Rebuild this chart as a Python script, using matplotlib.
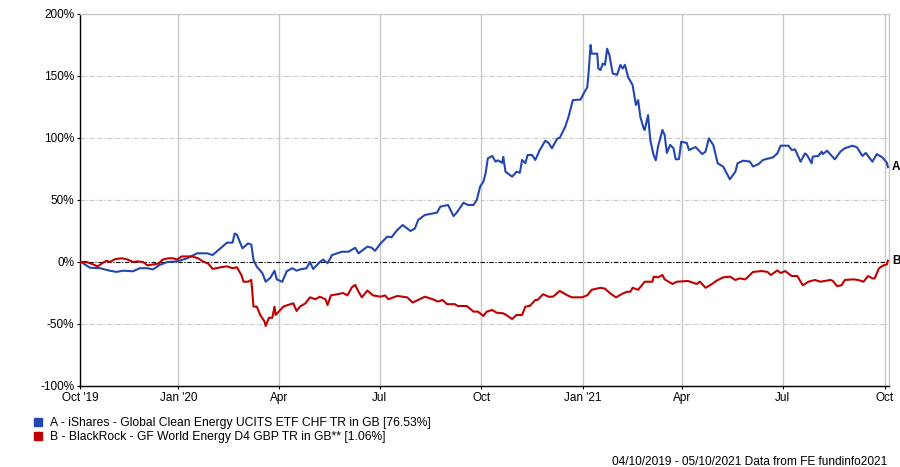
import matplotlib
matplotlib.use("Agg")
import matplotlib.pyplot as plt
import matplotlib.patches as mpatches
import pandas as pd
import numpy as np

plt.rcParams['font.family'] = ['Liberation Sans', 'DejaVu Sans']

start_date = "2019-10-04"
end_date = "2021-10-05"

# Series A (days since start, % growth)
days_a = [0, 1, 9, 18, 27, 33, 39, 48, 54, 61, 66, 72, 79, 88, 97, 106, 115, 120, 127, 133, 138, 140, 142,
          147, 152, 155, 157, 160, 165, 168, 172, 176, 178, 183, 187, 192, 196, 199, 205, 208, 211, 217, 220,
          224, 228, 237, 243, 249, 252, 260, 264, 267, 272, 278, 282, 287, 292, 299, 303, 306, 312, 323, 326,
          333, 338, 341, 347, 351, 356, 359, 362, 365, 367, 369, 373, 376, 378, 382, 383, 385, 391, 395, 398,
          400, 403, 405, 409, 412, 416, 421, 424, 427, 432, 434, 439, 442, 446, 453, 455, 459, 460, 461, 462,
          463, 466, 468, 469, 471, 473, 475, 477, 479, 482, 486, 489, 491, 493, 496, 500, 503, 505, 507, 510,
          511, 514, 516, 519, 521, 523, 527, 529, 531, 534, 537, 539, 542, 544, 549, 551, 557, 563, 566, 569,
          573, 577, 582, 588, 593, 595, 600, 606, 609, 614, 618, 627, 631, 634, 641, 644, 647, 652, 656, 658,
          662, 663, 668, 671, 672, 676, 683, 688, 692, 699, 703, 708, 711, 717, 721, 726, 730, 731]
vals_a = [0, 0, -4.6, -5, -7, -8, -7, -7.5, -5, -5, -6, -2.4, 0, 0.5, 3, 7, 7, 5.6, 11, 15.6, 15.6, 23, 22,
          11, 15, 14, 1.6, -3.8, -9, -15.9, -13, -7, -14, -16, -7.5, -5, -7, -6, -5, 0, -5.6, 0, 2,
          -1, 5.6, 8.3, 8.3, 11.5, 7, 12.4, 11.5, 9, 15, 20.4, 20, 25.8, 29.8, 25, 27, 33.9, 37.9, 39.8, 44.6,
          46, 37, 40, 47.8, 46, 46, 50, 60.7, 64.8, 71.5, 83.6, 85.5, 80.9, 82, 80, 84.7, 72.8, 68.8, 72.8, 72,
          82.3, 79.7, 86.3, 86.3, 82.3, 90.3, 97.8, 96, 91.7, 99.7, 100, 109, 117, 130.6, 131, 134.7, 141, 150.8, 163, 175,
          168, 168, 168, 156, 154.8, 160, 159, 172, 167, 152, 151, 159, 156, 159, 149, 142.7, 126.6, 130.6, 117, 107.8,
          106.5, 118.5, 98.4, 86.3, 82, 93, 106.5, 102.4, 87.9, 94.4, 91.7, 82.8, 83, 97, 96, 90.3, 92.7, 87, 89, 99.7,
          94.4, 79.6, 76.9, 66.7, 72.8, 79.6, 81.7, 81, 77, 79, 82.3, 84.4, 87.6, 93.8, 93.8, 90.3, 90.8, 80.9, 87.6, 86,
          79.6, 85, 85.5, 89, 87, 89.7, 82.8, 89, 91.7, 93.8, 92.5, 85.5, 88, 80.9, 87, 84.4, 80.1, 76.53]

# Series B (days since start, % growth)
days_b = [0, 1, 6, 12, 16, 21, 24, 27, 32, 38, 43, 48, 52, 57, 61, 66, 71, 75, 80, 84, 88, 92, 101, 107, 111,
          116, 120, 127, 133, 138, 142, 146, 148, 152, 155, 157, 160, 163, 167, 168, 171, 174, 176, 177, 184,
          188, 193, 196, 199, 204, 208, 213, 217, 222, 224, 227, 233, 238, 242, 246, 249, 252, 255, 260, 265,
          272, 276, 279, 287, 296, 301, 306, 312, 319, 324, 328, 332, 339, 342, 350, 356, 360, 365, 368, 373,
          377, 383, 387, 391, 395, 400, 403, 407, 412, 414, 419, 424, 428, 434, 441, 445, 454, 459, 463, 471,
          475, 480, 485, 491, 495, 498, 500, 505, 511, 518, 519, 523, 527, 529, 536, 540, 550, 558, 561, 566,
          570, 576, 582, 588, 593, 597, 602, 609, 617, 622, 625, 631, 634, 638, 644, 649, 654, 659, 665, 670,
          679, 681, 685, 689, 692, 700, 704, 709, 713, 717, 719, 723, 727, 730, 731]
vals_b = [0, 0, 0, -2, -3.5, -0.5, 1, 0, 2.4, 3, 2, 0, 0.5, 0, -2.7, -2, -1.3, 2, 3, 3, 2, 4.5, 4.5, 3, 0.5,
          -1.3, -5.6, -4.3, -3.5, -5, -4.3, -10.5, -15.9, -15.9, -14.5, -36, -36, -42.7, -48, -51.6, -45, -45, -36, -42.7, -36,
          -34.7, -33.3, -39.5, -36, -33.3, -28.5, -30, -28, -30, -34.7, -26.9, -26, -25, -26.9, -20.4, -18.5, -23.9, -28.5, -23, -26.9,
          -28, -26.9, -30, -27.4, -28.5, -32.7, -30.6, -28, -30, -31.9, -30.6, -34, -34, -35.5, -35.5, -40, -40, -43.5, -40, -38.7,
          -40.9, -41.4, -43.5, -46, -42.7, -42.7, -36, -35.5, -30.6, -30.6, -26, -28, -28, -23.3, -26.9, -28.5, -28.5, -26.9, -22.4, -20.8,
          -21.5, -25.5, -28.5, -25.5, -24, -24, -20.8, -22.4, -15.9, -15.9, -11.8, -12.4, -10.5, -14, -17.7, -15.9, -15.3, -17.7, -15.9, -20.8,
          -18.8, -15.1, -12.4, -11.8, -14.5, -13.2, -14, -8, -7.3, -8, -10.5, -6.8, -8.9, -7.3, -11.3, -11.3, -18.8, -15.9, -14.5, -15.9,
          -14.5, -15.1, -19.4, -18.8, -14.5, -14, -14.5, -15.9, -11.3, -13.2, -13.2, -5, -2.7, -2, 1.06]

tick_dates = ["2019-10-04", "2020-01-01", "2020-04-01", "2020-07-01", "2020-10-01",
              "2021-01-01", "2021-04-01", "2021-07-01", "2021-10-01"]
tick_labels = ["Oct '19", "Jan '20", "Apr", "Jul", "Oct", "Jan '21", "Apr", "Jul", "Oct"]
y_ticks = [-100, -50, 0, 50, 100, 150, 200]

legend_labels = ["A - iShares - Global Clean Energy UCITS ETF CHF TR in GB [76.53%]",
                 "B - BlackRock - GF World Energy D4 GBP TR in GB** [1.06%]"]
footer = "04/10/2019 - 05/10/2021 Data from FE fundinfo2021"

col_a = "#2346b0"
col_b = "#c00000"
grid_col = "#c8c8c8"

t0 = pd.Timestamp(start_date)
dates_a = t0 + pd.to_timedelta(days_a, unit="D")
dates_b = t0 + pd.to_timedelta(days_b, unit="D")

fig = plt.figure(figsize=(9, 4.67), dpi=100)
ax = fig.add_axes([80/900, 1 - 386/467, (889-80)/900, (386-14)/467])

ax.set_xlim(pd.Timestamp(start_date), pd.Timestamp(end_date))
ax.set_ylim(-100, 200)

# grid
for td in tick_dates[1:]:
    ax.axvline(pd.Timestamp(td), color=grid_col, lw=1.0, zorder=1)
for yv in [150, 100, 50, -50]:
    ax.axhline(yv, color=grid_col, lw=0.8, ls=(0, (4, 1.5, 1, 1.5)), zorder=1)
ax.axhline(0, color="black", lw=0.8, ls=(0, (4, 1.5, 1, 1.5)), zorder=2)

ax.plot(dates_a, vals_a, color=col_a, lw=1.5, zorder=3)
ax.plot(dates_b, vals_b, color=col_b, lw=1.5, zorder=3)

ax.annotate("A", (dates_a[-1], vals_a[-1]), xytext=(3, 0), textcoords="offset points",
            ha="left", va="center", fontsize=8.5, fontweight="bold", annotation_clip=False)
ax.annotate("B", (dates_b[-1], vals_b[-1]), xytext=(3, 0), textcoords="offset points",
            ha="left", va="center", fontsize=8.5, fontweight="bold", annotation_clip=False)

ax.set_xticks([pd.Timestamp(t) for t in tick_dates])
ax.set_xticklabels(tick_labels)
ax.set_yticks(y_ticks)
ax.set_yticklabels([f"{v}%" for v in y_ticks])
ax.tick_params(axis="both", labelsize=8.5, length=2, width=0.8, pad=2, colors="black")

for s in ["top", "right"]:
    ax.spines[s].set_color(grid_col)
    ax.spines[s].set_linewidth(1.0)
for s in ["left", "bottom"]:
    ax.spines[s].set_color("black")
    ax.spines[s].set_linewidth(1.0)

# legend
H = 467
fig.patches.append(mpatches.Rectangle((34/900, 1 - 426/H), 8/900, 8/H, transform=fig.transFigure,
                                      color=col_a, figure=fig))
fig.patches.append(mpatches.Rectangle((34/900, 1 - 440/H), 8/900, 8/H, transform=fig.transFigure,
                                      color=col_b, figure=fig))
fig.text(50/900, 1 - 423/H, legend_labels[0], fontsize=8.7, va="center", ha="left")
fig.text(50/900, 1 - 437/H, legend_labels[1], fontsize=8.7, va="center", ha="left")
fig.text(887/900, 1 - 462/H, footer, fontsize=8.6, va="center", ha="right")

fig.savefig("out.png", dpi=100)
